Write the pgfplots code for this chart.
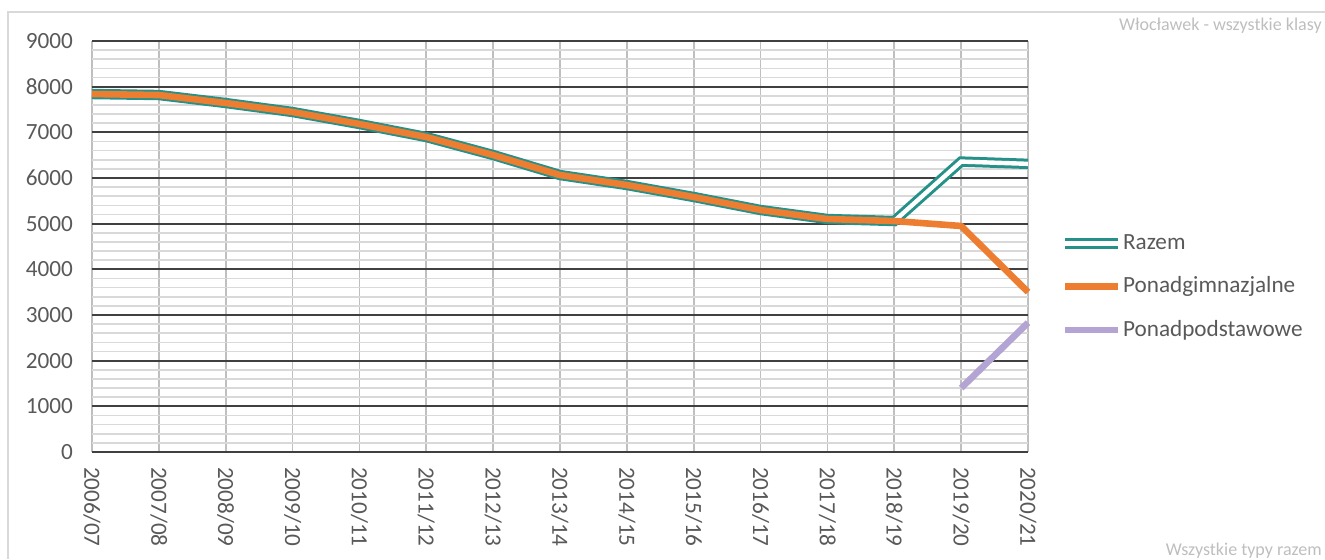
\documentclass[border=0pt]{standalone}
\usepackage{fontspec}
\setmainfont{Carlito}
\usepackage{pgfplots}
\pgfplotsset{compat=1.18}
\definecolor{teal1}{RGB}{38,145,137}
\definecolor{orange1}{RGB}{237,125,49}
\definecolor{purple1}{RGB}{180,164,212}
\definecolor{majgrid}{RGB}{64,64,64}
\definecolor{mingrid}{RGB}{217,217,217}
\definecolor{vgrid}{RGB}{191,191,191}
\definecolor{labgray}{RGB}{89,89,89}
\definecolor{cornergray}{RGB}{190,190,190}
\begin{document}
\begin{tikzpicture}
\begin{axis}[
  at={(46pt,53.5pt)}, anchor=south west,
  scale only axis, width=468pt, height=205.5pt,
  xmin=0, xmax=14, ymin=0, ymax=9000,
  xtick={0,...,14},
  xticklabels={2006/07,2007/08,2008/09,2009/10,2010/11,2011/12,2012/13,2013/14,2014/15,2015/16,2016/17,2017/18,2018/19,2019/20,2020/21},
  ytick={0,1000,...,9000},
  minor y tick num=4,
  scaled y ticks=false,
  /pgf/number format/1000 sep={},
  /pgf/number format/assume math mode=true,
  ticklabel style={font=\fontsize{11.6}{13}\selectfont, text=labgray},
  yticklabel style={xshift=-6pt},
  xticklabel style={rotate=-90, anchor=west, xshift=4pt},
  major tick length=0pt, minor tick length=0pt,
  axis line style={draw=none},
  xmajorgrids, ymajorgrids, yminorgrids,
  x grid style={vgrid, line width=0.9pt},
  major grid style={majgrid, line width=0.9pt},
  minor grid style={mingrid, line width=0.85pt},
  extra y ticks={0}, extra y tick labels={},
  extra y tick style={grid style={majgrid, line width=1.8pt}},
  clip=false,
  legend style={draw=none, fill=none, at={(axis description cs:1.027,0.55)}, anchor=north west,
    font=\fontsize{11.6}{13}\selectfont, text=labgray, row sep=8.3pt,
    nodes={inner xsep=0pt}},
  legend cell align=left,
  legend image code/.code={\draw[#1] (0pt,0pt) -- (26.5pt,0pt);},
]
\addplot[teal1, line width=1.5pt, double=white, double distance=2.2pt, line join=miter] coordinates {
(0,7839) (1,7817) (2,7642) (3,7445) (4,7182) (5,6897) (6,6503) (7,6065) (8,5846) (9,5584) (10,5299) (11,5102) (12,5058) (13,6360) (14,6310)};
\addlegendentry{Razem}
\addplot[orange1, line width=3.3pt, line join=round] coordinates {
(0,7839) (1,7817) (2,7642) (3,7445) (4,7182) (5,6897) (6,6503) (7,6065) (8,5846) (9,5584) (10,5299) (11,5102) (12,5058) (13,4949) (14,3503)};
\addlegendentry{Ponadgimnazjalne}
\addplot[purple1, line width=3.3pt] coordinates {(13,1401) (14,2831)};
\addlegendentry{Ponadpodstawowe}
\end{axis}
\draw[mingrid, line width=0.8pt] (4pt,0pt) -- (4pt,273.5pt) -- (662.5pt,273.5pt);
\node[anchor=north east, inner sep=0pt, text=cornergray, font=\fontsize{9}{10}\selectfont] at (661pt,270.5pt) {Włocławek - wszystkie klasy};
\node[anchor=base east, inner sep=0pt, text=cornergray, font=\fontsize{9}{10}\selectfont] at (661pt,2pt) {Wszystkie typy razem};
\pgfresetboundingbox
\path[use as bounding box] (0,0) rectangle (662.5pt,279.5pt);
\end{tikzpicture}
\end{document}
